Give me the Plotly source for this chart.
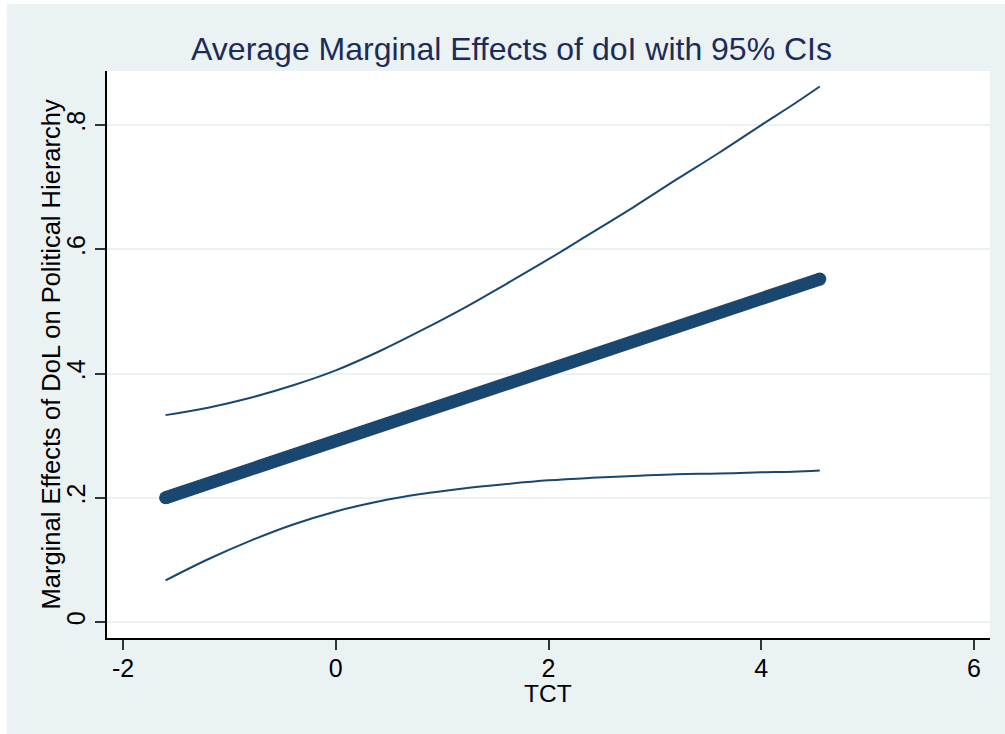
import plotly.graph_objects as go

# TCT values at which the marginal effect was evaluated
tct = [-1.6, -1.2, -0.8, -0.4, 0.0, 0.4, 0.8, 1.2, 1.6, 2.0,
       2.4, 2.8, 3.2, 3.6, 4.0, 4.3, 4.55]

# average marginal effect of doI and its 95% confidence bounds
ame = [0.200, 0.223, 0.246, 0.269, 0.292, 0.314, 0.337, 0.360, 0.383, 0.406,
       0.429, 0.452, 0.475, 0.497, 0.520, 0.538, 0.552]
ci_upper = [0.333, 0.345, 0.361, 0.381, 0.405, 0.435, 0.469, 0.505, 0.544, 0.584,
            0.626, 0.668, 0.712, 0.755, 0.800, 0.833, 0.862]
ci_lower = [0.067, 0.101, 0.131, 0.157, 0.178, 0.194, 0.206, 0.215, 0.222, 0.228,
            0.232, 0.235, 0.238, 0.239, 0.241, 0.242, 0.244]

y_ticks = [0, 0.2, 0.4, 0.6, 0.8]
y_tick_text = ["0", ".2", ".4", ".6", ".8"]
x_ticks = [-2, 0, 2, 4, 6]
x_tick_text = ["-2", "0", "2", "4", "6"]

NAVY = "#1A476F"
BG = "#EAF2F3"
FONT = "Liberation Sans, Arial, Helvetica, sans-serif"

fig = go.Figure()

for band in (ci_upper, ci_lower):
    fig.add_trace(go.Scatter(
        x=tct, y=band, mode="lines",
        line=dict(color=NAVY, width=2, shape="spline", smoothing=1.0),
        hoverinfo="skip", showlegend=False,
    ))

fig.add_trace(go.Scatter(
    x=tct, y=ame, mode="lines",
    line=dict(color=NAVY, width=13),
    showlegend=False,
))
# rounded ends of the thick estimate line
fig.add_trace(go.Scatter(
    x=[tct[0], tct[-1]], y=[ame[0], ame[-1]], mode="markers",
    marker=dict(color=NAVY, size=13, line=dict(width=0)),
    hoverinfo="skip", showlegend=False,
))

W, H = 1005, 734
L, R, T, B = 107, 15, 71, 96
PW, PH = W - L - R, H - T - B

fig.update_layout(
    width=W, height=H,
    margin=dict(l=L, r=R, t=T, b=B),
    paper_bgcolor=BG,
    plot_bgcolor="white",
    font=dict(family=FONT, color="black", size=25),
    title=dict(
        text="Average Marginal Effects of doI with 95% CIs",
        font=dict(family=FONT, size=32, color="#1E2B57"),
        x=0.509, xref="container", xanchor="center",
        y=1 - 49 / H, yref="container", yanchor="middle",
    ),
    xaxis=dict(
        range=[-2.1504, 6.150],
        tickvals=x_ticks, ticktext=x_tick_text,
        showgrid=False, zeroline=False,
        showline=True, linecolor="black", linewidth=1.5,
        ticks="outside", ticklen=10, tickwidth=1.5, tickcolor="#333333",
        ticklabelstandoff=-3,
        tickfont=dict(size=25, color="black"),
    ),
    yaxis=dict(
        range=[-0.0258, 0.887],
        tickvals=y_ticks, ticktext=y_tick_text,
        tickangle=-90,
        showgrid=True, gridcolor=BG, gridwidth=2,
        zeroline=False,
        showline=True, linecolor="black", linewidth=1.5,
        ticks="outside", ticklen=10, tickwidth=1.5, tickcolor="#333333",
        tickfont=dict(size=25, color="black"),
    ),
    annotations=[
        dict(text="TCT", xref="paper", yref="paper",
             x=(548 - L) / PW, y=(H - B - 693) / PH,
             xanchor="center", yanchor="middle", showarrow=False,
             font=dict(size=24.5, color="black")),
        dict(text="Marginal Effects of DoL on Political Hierarchy",
             xref="paper", yref="paper",
             x=(50 - L) / PW, y=0.5, textangle=-90,
             xanchor="center", yanchor="middle", showarrow=False,
             font=dict(size=25.5, color="black")),
    ],
    shapes=[
        # thin white page edge along the top and left of the graph region
        dict(type="rect", xref="paper", yref="paper",
             x0=-L / PW, x1=(7 - L) / PW,
             y0=-B / PH, y1=1 + T / PH,
             fillcolor="white", line=dict(width=0), layer="above"),
        dict(type="rect", xref="paper", yref="paper",
             x0=-L / PW, x1=1 + R / PW,
             y0=1 + (T - 4) / PH, y1=1 + T / PH,
             fillcolor="white", line=dict(width=0), layer="above"),
    ],
)

fig.write_html("out.html")
